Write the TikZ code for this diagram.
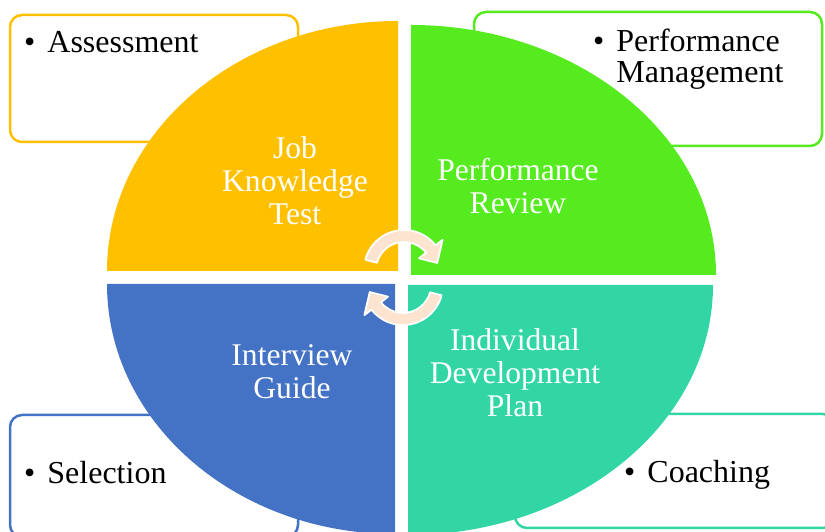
\documentclass[tikz,border=0pt]{standalone}
\usepackage{fontspec}
\setmainfont{Liberation Serif}
\usepackage{tikz}

\definecolor{jobyellow}{HTML}{FFC000}
\definecolor{revgreen}{HTML}{56EB1F}
\definecolor{guideblue}{HTML}{4472C4}
\definecolor{planteal}{HTML}{32D6A4}
\definecolor{turnpeach}{HTML}{FCE4D0}

\newcommand{\bitem}[1]{\begin{tabular}[t]{@{}l@{\hspace{12pt}}l@{}}\textbullet & #1\end{tabular}}

\tikzset{
  infobox/.style={draw, fill=white, line width=2.5pt, rounded corners=12pt, inner sep=0pt},
  boxtext/.style={anchor=base west, inner sep=0pt, text=black, font=\fontsize{32}{31}\selectfont},
  quadtext/.style={align=center, inner sep=0pt, text=white, font=\fontsize{31.6}{33}\selectfont},
  turn/.style={fill=turnpeach, draw=white, line width=1.8pt, line join=round}
}

\begin{document}
\begin{tikzpicture}[x=1pt, y=1pt]
    \useasboundingbox (0,0) rectangle (825,532);
    \clip (0,0) rectangle (825,532);

    % side boxes behind the circle
    \node[infobox, draw=jobyellow, minimum width=288pt, minimum height=127pt] (assessbox) at (154,453.5) {};
    \node[infobox, draw=revgreen, minimum width=348pt, minimum height=134pt] (perfbox) at (648,453) {};
    \node[infobox, draw=guideblue, minimum width=288pt, minimum height=122pt] (selectbox) at (154,56) {};
    \node[infobox, draw=planteal, minimum width=320pt, minimum height=114pt] (coachbox) at (675,61) {};

    \node[boxtext] (assesstext) at (24,479) {\bitem{Assessment}};
    \node[boxtext] (perftext) at (593,480) {\bitem{Performance\\ & Management}};
    \node[boxtext] (selecttext) at (24,48) {\bitem{Selection}};
    \node[boxtext] (coachtext) at (624,49) {\bitem{Coaching}};

    % the four quarters
    \fill[jobyellow] (398,261) -- (107,261) arc[start angle=180, end angle=90, x radius=291pt, y radius=250pt] -- cycle;
    \fill[revgreen] (411,257) -- (411,507) arc[start angle=90, end angle=0, x radius=305pt, y radius=250pt] -- cycle;
    \fill[guideblue] (395,248) -- (107,248) arc[start angle=180, end angle=270, x radius=288pt, y radius=250pt] -- cycle;
    \fill[planteal] (408,247) -- (713,247) arc[start angle=0, end angle=-90, x radius=305pt, y radius=250pt] -- cycle;

    % cycle arrows in the middle
    \begin{scope}[shift={(404,262)}]
        \filldraw[turn] (165:40pt) arc[start angle=165, end angle=38, radius=40pt]
            -- (38:49pt) -- (12:34pt) -- (38:19pt) -- (38:28pt)
            arc[start angle=38, end angle=165, radius=28pt] -- cycle;
    \end{scope}
    \begin{scope}[shift={(403,247)}]
        \filldraw[turn] (-15:40pt) arc[start angle=-15, end angle=-142, radius=40pt]
            -- (-142:49pt) -- (-168:34pt) -- (-142:19pt) -- (-142:28pt)
            arc[start angle=-142, end angle=-15, radius=28pt] -- cycle;
    \end{scope}

    % quarter labels
    \node[quadtext] (jobtest) at (295,351) {Job\\Knowledge\\Test};
    \node[quadtext] (review) at (518,346) {Performance\\Review};
    \node[quadtext] (guide) at (292,160.5) {Interview\\Guide};
    \node[quadtext] (devplan) at (515,159) {Individual\\Development\\Plan};
\end{tikzpicture}
\end{document}
